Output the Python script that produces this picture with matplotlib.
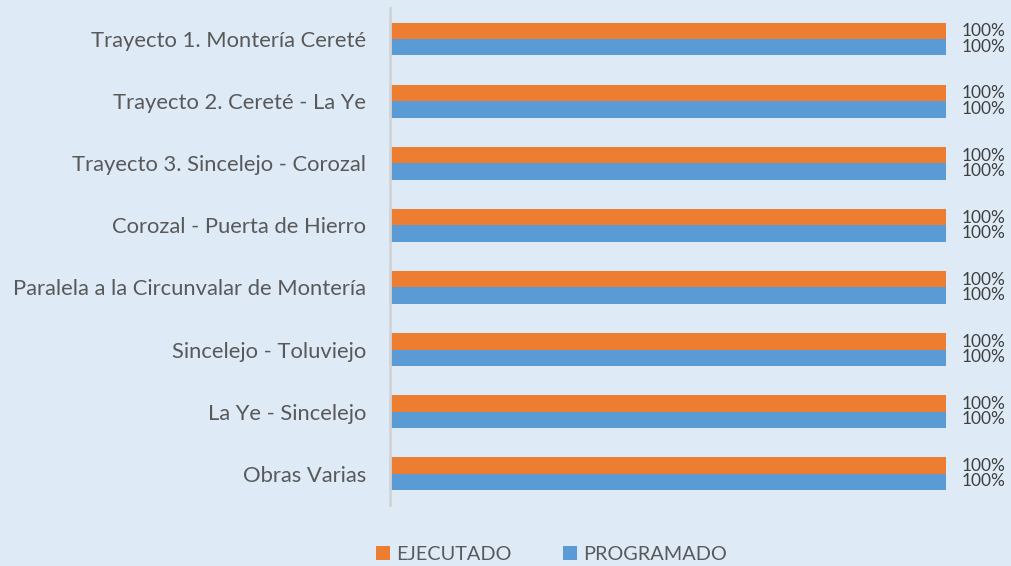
import numpy as np
import matplotlib.pyplot as plt

categorias = [
    "Trayecto 1. Montería Cereté",
    "Trayecto 2. Cereté - La Ye",
    "Trayecto 3. Sincelejo - Corozal",
    "Corozal - Puerta de Hierro",
    "Paralela a la Circunvalar de Montería",
    "Sincelejo - Toluviejo",
    "La Ye - Sincelejo",
    "Obras Varias",
]
ejecutado = [1.0, 1.0, 1.0, 1.0, 1.0, 1.0, 1.0, 1.0]
programado = [1.0, 1.0, 1.0, 1.0, 1.0, 1.0, 1.0, 1.0]

bg = "#DEEBF7"
naranja = "#ED7D31"
azul = "#5B9BD5"
texto = "#595959"

plt.rcParams['font.family'] = ['Lato', 'DejaVu Sans']

fig = plt.figure(figsize=(10.12, 5.66), dpi=100, facecolor=bg)
ax = fig.add_axes([0.385, 0.108, 0.55, 0.878], facecolor=bg)

y = np.arange(len(categorias))
h = 0.265
b1 = ax.barh(y - h / 2, ejecutado, height=h, color=naranja, label="EJECUTADO")
b2 = ax.barh(y + h / 2, programado, height=h, color=azul, label="PROGRAMADO")

for yi, v in zip(y, ejecutado):
    ax.text(v + 0.028, yi - h / 2 + 0.01, f"{v:.0%}", va="center", ha="left",
            fontsize=12.5, color="#404040")
for yi, v in zip(y, programado):
    ax.text(v + 0.028, yi + h / 2 - 0.01, f"{v:.0%}", va="center", ha="left",
            fontsize=12.5, color="#404040")

ax.set_ylim(len(categorias) - 0.5, -0.5)
ax.set_xlim(0, 1.0)
ax.set_yticks(y)
ax.set_yticklabels(categorias, fontsize=15.8, color=texto)
ax.set_xticks([])
ax.tick_params(axis="y", length=0, pad=17)
for s in ["top", "right", "bottom"]:
    ax.spines[s].set_visible(False)
ax.spines["left"].set_color("#D0D4D8")
ax.spines["left"].set_linewidth(2)

fig.legend(handles=[b1, b2], loc="lower center", bbox_to_anchor=(0.545, -0.026),
           ncol=2, frameon=False, fontsize=14.3, labelcolor=texto,
           handlelength=0.7, handleheight=0.7, handletextpad=0.3, columnspacing=2.6)

fig.savefig("out.png", dpi=100, facecolor=bg)
